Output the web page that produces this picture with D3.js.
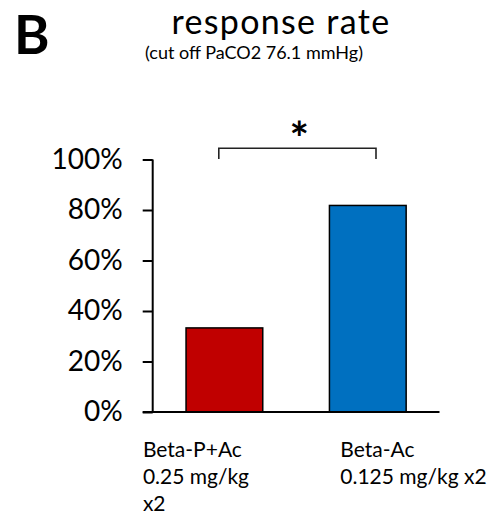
<!DOCTYPE html>
<html>
<head>
<meta charset="utf-8">
<script src="https://cdn.jsdelivr.net/npm/d3@7"></script>
<style>
  html, body { margin: 0; padding: 0; background: #fff; }
  svg { display: block; }
  text { font-family: Lato, "Open Sans", sans-serif; fill: #000; }
</style>
</head>
<body>
<svg id="chart" width="492" height="517"></svg>
<script>
// Response rate per treatment group
const categories = ["Beta-P+Ac", "Beta-Ac"];
const responseRate = [0.333, 0.818];
const barColors = ["#C00000", "#0070C0"];
const categoryLabels = [
  ["Beta-P+Ac", "0.25 mg/kg", "x2"],
  ["Beta-Ac", "0.125 mg/kg x2"]
];
const yTicks = [0, 0.2, 0.4, 0.6, 0.8, 1.0];
const panelLetter = "B";
const title = "response rate";
const subtitle = "(cut off PaCO2 76.1 mmHg)";
const significance = "*";

const svg = d3.select("#chart");

const x = d3.scaleBand()
  .domain(categories)
  .range([152.7, 439.5])
  .paddingInner(0.465)
  .paddingOuter(0.2325);

const y = d3.scaleLinear()
  .domain([0, 1])
  .range([412, 159.5]);

// Panel letter and titles
svg.append("text")
  .attr("x", 14).attr("y", 53.5)
  .attr("font-size", 54).attr("font-weight", 700)
  .text(panelLetter);

svg.append("text")
  .attr("x", 281).attr("y", 34)
  .attr("text-anchor", "middle")
  .attr("font-size", 34)
  .attr("letter-spacing", 1.3)
  .text(title);

svg.append("text")
  .attr("x", 254).attr("y", 58.5)
  .attr("text-anchor", "middle")
  .attr("font-size", 18)
  .text(subtitle);

// Y axis
const yAxis = d3.axisLeft(y)
  .tickValues(yTicks)
  .tickFormat(d3.format(".0%"))
  .tickSize(10)
  .tickPadding(20);

const gy = svg.append("g")
  .attr("transform", "translate(152.7,0)")
  .call(yAxis);
gy.select(".domain").remove();
gy.selectAll(".tick line").attr("stroke", "#000").attr("stroke-width", 2);
gy.selectAll(".tick text")
  .attr("font-size", 28)
  .attr("font-family", "Lato, sans-serif")
  .attr("fill", "#000");
gy.append("line")
  .attr("x1", 0).attr("x2", 0)
  .attr("y1", y(1)).attr("y2", y(0))
  .attr("stroke", "#000").attr("stroke-width", 2);

// Bars
svg.append("g")
  .selectAll("rect")
  .data(categories)
  .join("rect")
  .attr("x", d => x(d))
  .attr("y", (d, i) => y(responseRate[i]))
  .attr("width", x.bandwidth())
  .attr("height", (d, i) => y(0) - y(responseRate[i]))
  .attr("fill", (d, i) => barColors[i])
  .attr("stroke", "#000")
  .attr("stroke-width", 1.5);

// X axis baseline
svg.append("line")
  .attr("x1", 142.7).attr("x2", x.range()[1])
  .attr("y1", y(0)).attr("y2", y(0))
  .attr("stroke", "#000").attr("stroke-width", 2);

// Category labels, left aligned, one tspan per line
const labelOffsets = [-81.5, -27.5];
const lab = svg.append("g")
  .selectAll("text")
  .data(categoryLabels)
  .join("text")
  .attr("x", (d, i) => x(categories[i]) + x.bandwidth() / 2 + labelOffsets[i])
  .attr("y", 456.5)
  .attr("font-size", 21);
lab.selectAll("tspan")
  .data(d => d)
  .join("tspan")
  .attr("x", function () { return d3.select(this.parentNode).attr("x"); })
  .attr("dy", (d, i) => i === 0 ? 0 : 27.3)
  .text(d => d);

// Significance bracket
const bx1 = x(categories[0]) + x.bandwidth() / 2 - 5.6;
const bx2 = x(categories[1]) + x.bandwidth() / 2 + 8.2;
const byTop = 148.3, byBottom = 159;
svg.append("path")
  .attr("d", `M${bx1},${byBottom}V${byTop}H${bx2}V${byBottom}`)
  .attr("fill", "none")
  .attr("stroke", "#222")
  .attr("stroke-width", 1.6);

svg.append("text")
  .attr("x", (bx1 + bx2) / 2 + 2)
  .attr("y", 155)
  .attr("text-anchor", "middle")
  .attr("font-size", 46)
  .attr("font-weight", 700)
  .text(significance);
</script>
</body>
</html>
